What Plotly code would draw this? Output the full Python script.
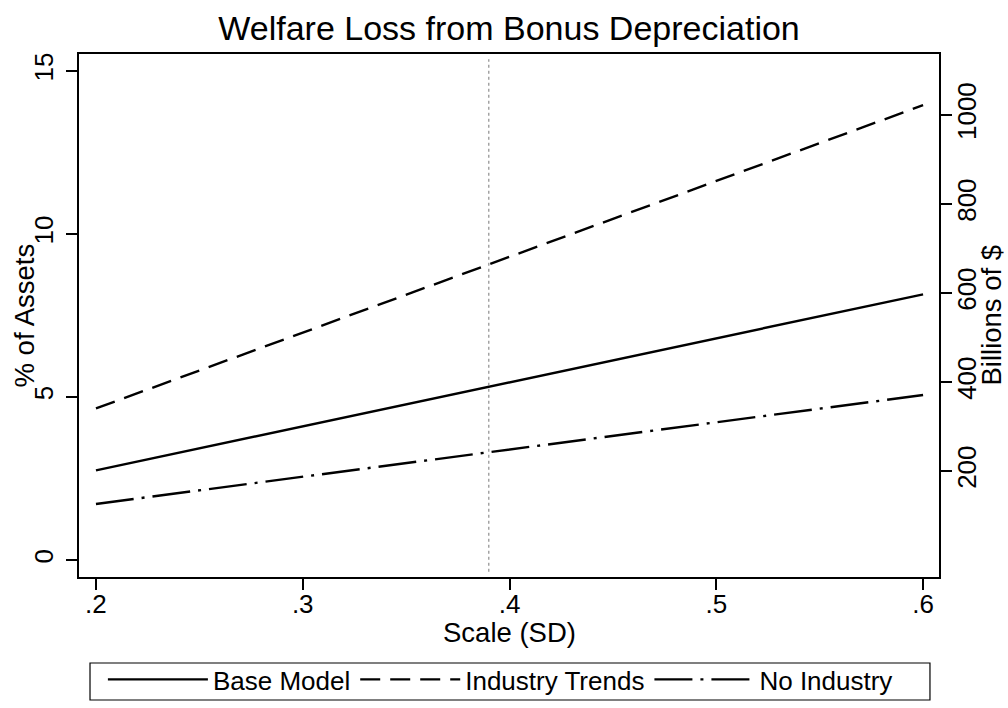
import plotly.graph_objects as go

# Data
scale_sd = [0.2, 0.3, 0.4, 0.5, 0.6]
base_model = [2.75, 4.10, 5.45, 6.80, 8.15]
industry_trends = [4.65, 6.97, 9.30, 11.63, 13.95]
no_industry = [1.72, 2.55, 3.39, 4.22, 5.06]

x_ticks = [0.2, 0.3, 0.4, 0.5, 0.6]
x_ticklabels = [".2", ".3", ".4", ".5", ".6"]
left_ticks = [0, 5, 10, 15]
right_ticks = [200, 400, 600, 800, 1000]
vline_x = 0.39

FONT = "Liberation Sans, Arial, Helvetica, sans-serif"

fig = go.Figure()
fig.add_trace(go.Scatter(x=scale_sd, y=base_model, mode="lines", name="Base Model",
                         line=dict(color="black", width=2.4, dash="solid")))
fig.add_trace(go.Scatter(x=scale_sd, y=industry_trends, mode="lines", name="Industry Trends",
                         line=dict(color="black", width=2.4, dash="20px,10px")))
fig.add_trace(go.Scatter(x=scale_sd, y=no_industry, mode="lines", name="No Industry",
                         line=dict(color="black", width=2.4, dash="38px,8px,3px,8px")))
# empty trace so that the right-hand axis is drawn
fig.add_trace(go.Scatter(x=[], y=[], yaxis="y2", showlegend=False, hoverinfo="skip"))

fig.add_shape(type="line", xref="x", yref="paper", x0=vline_x, x1=vline_x, y0=0.01, y1=0.99,
              line=dict(color="#777777", width=1, dash="dot"))
# legend frame
fig.add_shape(type="rect", xref="paper", yref="paper", x0=0.0128, x1=0.9895,
              y0=-0.2352, y1=-0.1644, line=dict(color="black", width=1.2),
              fillcolor="rgba(0,0,0,0)", layer="above")

TITLE_SIZE = 27.5
fig.add_annotation(text="Scale (SD)", xref="paper", yref="paper", x=0.5, y=-0.107,
                   xanchor="center", yanchor="middle", showarrow=False,
                   font=dict(size=TITLE_SIZE, family=FONT, color="black"))
fig.add_annotation(text="% of Assets", xref="paper", yref="paper", x=-0.0628, y=0.5,
                   xanchor="center", yanchor="middle", showarrow=False, textangle=-90,
                   font=dict(size=TITLE_SIZE, family=FONT, color="black"))
fig.add_annotation(text="Billions of $", xref="paper", yref="paper", x=1.0605, y=0.5,
                   xanchor="center", yanchor="middle", showarrow=False, textangle=-90,
                   font=dict(size=TITLE_SIZE, family=FONT, color="black"))

fig.update_layout(
    width=1008, height=708,
    paper_bgcolor="white", plot_bgcolor="white",
    margin=dict(l=79, r=69, t=54, b=131, pad=0, autoexpand=False),
    font=dict(family=FONT, color="black", size=26),
    title=dict(text="Welfare Loss from Bonus Depreciation", x=0.505, xanchor="center",
               y=0.960, yanchor="middle", font=dict(size=34, family=FONT, color="black")),
    showlegend=True,
    legend=dict(orientation="h", x=0.49, xanchor="center", y=-0.151, yanchor="top",
                borderwidth=0, bgcolor="rgba(0,0,0,0)",
                font=dict(size=26, family=FONT), itemwidth=100,
                traceorder="normal"),
    xaxis=dict(range=[0.1918, 0.6077], tickvals=x_ticks, ticktext=x_ticklabels,
               showline=True, linecolor="black", linewidth=2, mirror=True,
               ticks="outside", ticklen=11, tickwidth=2, tickcolor="black",
               showgrid=False, zeroline=False, automargin=False, ticklabelstandoff=-8,
               tickfont=dict(size=26)),
    yaxis=dict(range=[-0.52, 15.52], tickvals=left_ticks, tickangle=-90,
               showline=True, linecolor="black", linewidth=2,
               ticks="outside", ticklen=11, tickwidth=2, tickcolor="black",
               showgrid=False, zeroline=False, ticklabelstandoff=3, automargin=False,
               tickfont=dict(size=26)),
    yaxis2=dict(range=[-38, 1137], tickvals=right_ticks, tickangle=-90,
                overlaying="y", side="right", anchor="x",
                showline=True, linecolor="black", linewidth=2,
                ticks="outside", ticklen=11, tickwidth=2, tickcolor="black",
                showgrid=False, zeroline=False, automargin=False, ticklabelstandoff=-7,
                tickfont=dict(size=26)),
)

fig.write_html("out.html", config={"displayModeBar": False},
               post_script="document.body.style.margin='0px';")
